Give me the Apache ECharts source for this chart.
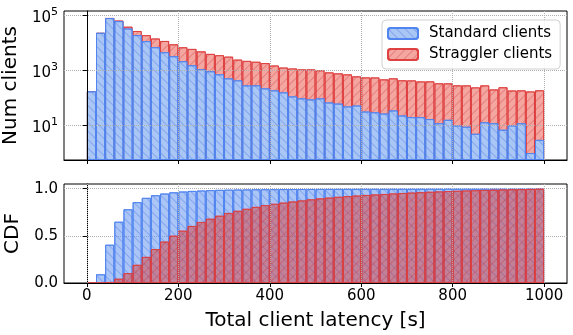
<!DOCTYPE html>
<html>
<head>
<meta charset="utf-8">
<script src="https://cdn.jsdelivr.net/npm/echarts@6/dist/echarts.min.js"></script>
<style>
    html, body { margin: 0; padding: 0; background: #fff; }
    #chart { width: 573px; height: 335px; }
</style>
</head>
<body>
<div id="chart"></div>
<script>
// histogram bins (left edges, width 20 s)
const binWidth = 20;
const binStarts = [0, 20, 40, 60, 80, 100, 120, 140, 160, 180,
    200, 220, 240, 260, 280, 300, 320, 340, 360, 380,
    400, 420, 440, 460, 480, 500, 520, 540, 560, 580,
    600, 620, 640, 660, 680, 700, 720, 740, 760, 780,
    800, 820, 840, 860, 880, 900, 920, 940, 960, 980];

const standardCounts = [172, 22700, 77600, 60300, 32600, 18700, 11300, 6840, 4500, 3220,
    2120, 1520, 1085, 918, 713, 510, 431, 284, 284, 221,
    187, 158, 113, 96, 88, 96, 68, 62, 49, 53,
    32, 30, 27, 35, 23, 20, 20, 17, 12, 16,
    10, 9, 5, 13, 12, 7, 10, 12, 1, 3];

const stragglerCounts = [0, 40, 950, 3000, 5300, 7700, 7400, 7300, 7000, 5500,
    4700, 4400, 3750, 3000, 2800, 2600, 2000, 1900, 1750, 1600,
    1300, 1100, 1050, 980, 990, 900, 770, 710, 660, 550,
    520, 520, 440, 475, 410, 410, 375, 380, 325, 320,
    275, 275, 235, 270, 190, 235, 175, 175, 170, 185];

const xTicks = [0, 200, 400, 600, 800, 1000];
const logTicks = [10, 1000, 100000];
const cdfTicks = [0, 0.5, 1];

const font = 'DejaVu Sans';
// top panel: opaque fills (stacked look), bottom panel: translucent overlap
const blueSolid = 'rgb(170,198,244)';
const redSolid = 'rgb(244,166,161)';
const blueFill = 'rgba(100,150,238,0.55)';
const redFill = 'rgba(222,46,40,0.45)';
const blueEdge = 'rgba(80,132,240,0.9)';
const redEdge = 'rgba(222,62,62,0.85)';
const blueHatch = {
    symbol: 'rect', symbolSize: 1, dashArrayX: [1, 0], dashArrayY: [1, 5],
    rotation: Math.PI / 4, color: 'rgba(60,110,225,0.35)'
};
const redHatch = {
    symbol: 'rect', symbolSize: 1, dashArrayX: [1, 0], dashArrayY: [1, 5],
    rotation: -Math.PI / 4, color: 'rgba(200,40,40,0.3)'
};

const mid = binStarts.map(b => b + binWidth / 2);
const totalCounts = standardCounts.map((v, i) => v + stragglerCounts[i]);
const cumulative = arr => {
    const total = arr.reduce((a, b) => a + b, 0);
    let run = 0;
    return arr.map(v => (run += v) / total);
};
const cdfStandard = cumulative(standardCounts);
const cdfStraggler = cumulative(stragglerCounts);

const gridLine = { show: true, lineStyle: { color: '#b0b0b0', type: 'dotted', width: 1 } };

function xAxis(gridIndex, withLabels) {
    return {
        type: 'value', gridIndex, min: -50, max: 1050, z: 3,
        axisLine: { show: true, onZero: false, lineStyle: { color: '#000', width: 1 } },
        axisTick: { show: true, customValues: xTicks, length: 4, lineStyle: { color: '#000' } },
        axisLabel: {
            show: withLabels, customValues: xTicks, fontSize: 15, color: '#000',
            fontFamily: font, margin: 6, formatter: v => String(v)
        },
        splitLine: gridLine,
        name: withLabels ? 'Total client latency [s]' : '',
        nameLocation: 'middle', nameGap: 28,
        nameTextStyle: { fontSize: 20, color: '#000', fontFamily: font }
    };
}

const chart = echarts.init(document.getElementById('chart'));

const option = {
    animation: false,
    grid: [
        { left: 64, right: 6, top: 11, height: 149, show: true, borderColor: '#000', borderWidth: 1,
          outerBoundsMode: 'none', containLabel: false },
        { left: 64, right: 6, top: 184, height: 99, show: true, borderColor: '#000', borderWidth: 1,
          outerBoundsMode: 'none', containLabel: false }
    ],
    legend: {
        data: ['Standard clients', 'Straggler clients'],
        orient: 'vertical', left: 382, top: 20,
        itemWidth: 30, itemHeight: 11, itemGap: 6,
        backgroundColor: 'rgba(255,255,255,0.85)', borderColor: '#d0d0d0', borderWidth: 1, borderRadius: 4,
        padding: [6, 8, 7, 5],
        textStyle: { fontSize: 15, lineHeight: 15, color: '#000', fontFamily: font, padding: [0, 0, 0, 6] }
    },
    xAxis: [xAxis(0, false), xAxis(1, true)],
    yAxis: [
        {
            type: 'log', gridIndex: 0, logBase: 10, min: 0.56, max: 140000, startValue: 0.56, z: 3,
            axisLine: { show: true, lineStyle: { color: '#000' } },
            axisTick: { show: true, customValues: logTicks, length: 4, lineStyle: { color: '#000' } },
            axisLabel: {
                customValues: logTicks, margin: 6, color: '#000', fontFamily: font,
                formatter: v => '{b|10}{s|' + Math.round(Math.log10(v)) + '}',
                rich: {
                    b: { fontSize: 15, fontFamily: font, color: '#000', padding: [6, 0, 0, 0] },
                    s: { fontSize: 11, fontFamily: font, color: '#000', padding: [0, 0, 6, 0] }
                }
            },
            minorTick: { show: false },
            splitLine: gridLine,
            name: 'Num clients', nameLocation: 'middle', nameGap: 41,
            nameTextStyle: { fontSize: 20, color: '#000', fontFamily: font }
        },
        {
            type: 'value', gridIndex: 1, min: 0, max: 1.05,
            axisLine: { show: true, lineStyle: { color: '#000' } },
            axisTick: { show: true, customValues: cdfTicks, length: 4, lineStyle: { color: '#000' } },
            axisLabel: {
                customValues: cdfTicks, margin: 6, fontSize: 15, color: '#000', fontFamily: font,
                formatter: v => v.toFixed(1)
            },
            splitLine: gridLine,
            name: 'CDF', nameLocation: 'middle', nameGap: 41,
            nameTextStyle: { fontSize: 20, color: '#000', fontFamily: font }
        }
    ],
    series: [
        {
            // stragglers stacked on top of standard clients: drawn as total, behind the blue bars
            name: 'Straggler clients', type: 'bar', xAxisIndex: 0, yAxisIndex: 0,
            barWidth: '100%', barGap: '-100%',
            data: totalCounts.map((v, i) => [mid[i], v]),
            itemStyle: { color: redSolid, borderColor: redEdge, borderWidth: 1, decal: redHatch }
        },
        {
            name: 'Standard clients', type: 'bar', xAxisIndex: 0, yAxisIndex: 0,
            barWidth: '100%', barGap: '-100%',
            data: standardCounts.map((v, i) => [mid[i], v]),
            itemStyle: { color: blueSolid, borderColor: blueEdge, borderWidth: 1, decal: blueHatch }
        },
        {
            name: 'Standard clients', type: 'bar', xAxisIndex: 1, yAxisIndex: 1,
            barWidth: '100%', barGap: '-100%',
            data: cdfStandard.map((v, i) => [mid[i], v]),
            itemStyle: { color: blueFill, borderColor: blueEdge, borderWidth: 1, decal: blueHatch }
        },
        {
            name: 'Straggler clients', type: 'bar', xAxisIndex: 1, yAxisIndex: 1,
            barWidth: '100%', barGap: '-100%',
            data: cdfStraggler.map((v, i) => [mid[i], v]),
            itemStyle: { color: redFill, borderColor: redEdge, borderWidth: 1, decal: redHatch }
        }
    ]
};

chart.setOption(option);
</script>
</body>
</html>
